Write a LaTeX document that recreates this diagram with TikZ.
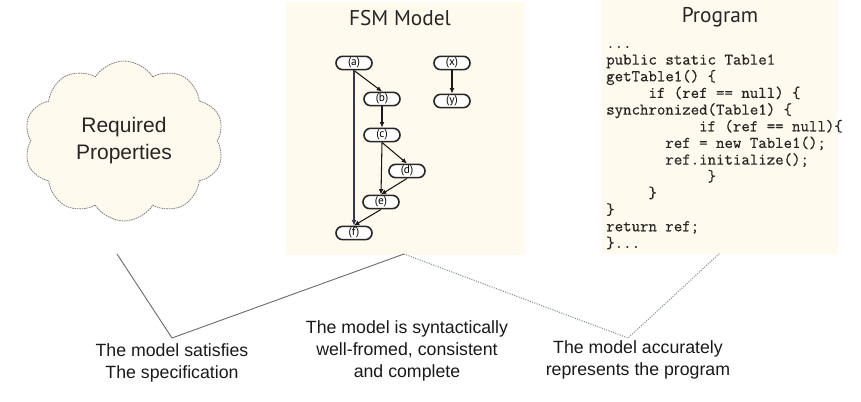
\documentclass[tikz,border=0pt]{standalone}
\usepackage{fontspec}
\setmainfont{Liberation Sans}
\newfontfamily\titlefont{PT Sans}
\newfontfamily\codefont[FakeBold=0.6]{Latin Modern Mono}
\usetikzlibrary{shapes.symbols,arrows.meta}
\definecolor{cream}{RGB}{255,250,238}
\definecolor{linegray}{RGB}{110,110,110}
\definecolor{dotgray}{RGB}{130,150,130}
\definecolor{bluegray}{RGB}{55,55,85}
\begin{document}
\begin{tikzpicture}[x=0.75pt,y=-0.75pt,
  panel/.style={fill=cream},
  state/.style={draw=black!85, line width=1.2pt, fill=white, rounded corners=5pt,
    minimum width=27pt, minimum height=10pt, inner sep=0pt,
    font=\titlefont\fontsize{8.5}{9}\selectfont},
  arr/.style={-{Latex[length=4pt,width=3.6pt]}, line width=0.8pt, black!90},
  title/.style={font=\titlefont\fontsize{16}{19}\selectfont, text=black!85},
  caption/.style={align=center, font=\fontsize{13.3}{16.5}\selectfont, text=black!90},
  solidlink/.style={draw=linegray, line width=0.7pt},
  dotlink/.style={draw=dotgray, line width=0.8pt, densely dotted}
]
\useasboundingbox (0,0) rectangle (861,402);
% panels
\fill[panel] (286,2) rectangle (525,255);
\fill[panel] (602,0) rectangle (838,254);
% cloud
\node (req) [cloud, cloud puffs=10, cloud puff arc=115, aspect=1.25,
  draw=gray, line width=0.6pt, dash pattern=on 1.2pt off 0.6pt, fill=cream,
  minimum width=150pt, minimum height=120pt, align=center,
  font=\fontsize{15.75}{20.25}\selectfont, text=black!85] at (124,141) {Required\\Properties};
% titles
\node (fsmtitle) [title] at (400,18) {FSM Model};
\node (progtitle) [title] at (720,17) {Program};
% FSM states
\node (a) [state] at (354,63) {(a)};
\node (b) [state] at (382,99) {(b)};
\node (c) [state] at (382,135) {(c)};
\node (d) [state] at (407,171) {(d)};
\node (e) [state] at (381,202) {(e)};
\node (f) [state] at (354,233) {(f)};
\node (x) [state] at (452,63) {(x)};
\node (y) [state] at (452,101) {(y)};
\draw[arr] (a.south) -- (b.north);
\draw[arr, draw=bluegray] (a.south) -- (f.north);
\draw[arr] (b.south) -- (c.north);
\draw[arr] (c.south) -- (d.north);
\draw[arr] (c.south) -- (e.north);
\draw[arr] (d.south) -- (e.north);
\draw[arr] (e.south) -- (f.north);
\draw[arr] (x.south) -- (y.north);
% code
\node (code) [anchor=north west, inner sep=0pt, align=left, text=black!85,
  font=\codefont\fontsize{12.3}{12.5}\selectfont] at (606,36) {%
\strut...\\
public static Table1\\
getTable1() \{\\
~~~~~if (ref == null) \{\\
synchronized(Table1) \{\\
~~~~~~~~~~~if (ref == null)\{\\
~~~~~~~ref = new Table1();\\
~~~~~~~ref.initialize();\\
~~~~~~~~~~~~\}\\
~~~~~\}\\
\}\\
return ref;\\
\}...};
% captions
\node (t1) [caption] at (172,363) {The model satisfies\\The specification};
\node (t2) [caption] at (407,351) {The model is syntactically\\well-fromed, consistent\\and complete};
\node (t3) [caption] at (638,360) {The model accurately\\represents the program};
% connectors
\coordinate (v0) at (117,254);
\coordinate (v1) at (172,338);
\coordinate (v2) at (404,254);
\coordinate (v3) at (628,338);
\coordinate (v4) at (720,253);
\draw[solidlink] (v0) -- (v1) -- (v2);
\draw[dotlink] (v2) -- (v3) -- (v4);
\end{tikzpicture}
\end{document}
